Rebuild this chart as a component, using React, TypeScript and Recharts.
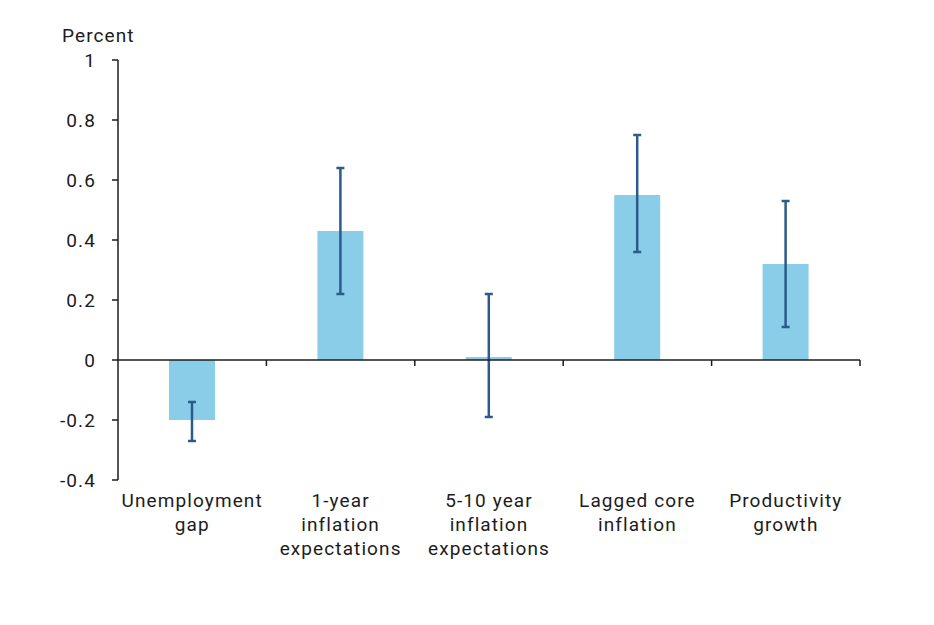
import React from 'react';
import { BarChart, Bar, XAxis, YAxis, ErrorBar, ReferenceLine } from 'recharts';

// category labels, one entry per line of text
const categoryLines = [
  ['Unemployment', 'gap'],
  ['1-year', 'inflation', 'expectations'],
  ['5-10 year', 'inflation', 'expectations'],
  ['Lagged core', 'inflation'],
  ['Productivity', 'growth'],
];

const estimates = [-0.2, 0.43, 0.01, 0.55, 0.32];
const lowerBounds = [-0.27, 0.22, -0.19, 0.36, 0.11];
const upperBounds = [-0.14, 0.64, 0.22, 0.75, 0.53];

const yTicks = [-0.4, -0.2, 0, 0.2, 0.4, 0.6, 0.8, 1];

const data = estimates.map((v, i) => ({
  pos: i + 0.5,
  value: v,
  err: [v - lowerBounds[i], upperBounds[i] - v],
}));

const centerTicks = data.map(d => d.pos);
const boundaries = categoryLines.map((_, i) => i + 1);

const FONT = 'Roboto, "Noto Sans", sans-serif';
const INK = '#1c1c1c';

const CategoryTick = (props: any) => {
  const { x, y, payload } = props;
  const lines = categoryLines[Math.floor(payload.value)] || [];
  return (
    <text
      x={x}
      y={y + 27}
      textAnchor="middle"
      fill={INK}
      fontSize={19}
      fontFamily={FONT}
      letterSpacing={1.1}
    >
      {lines.map((line, i) => (
        <tspan key={i} x={x} dy={i === 0 ? 0 : 24}>
          {line}
        </tspan>
      ))}
    </text>
  );
};

const renderPercent = (props: any) => {
  const vb = props.viewBox || { x: 58, y: 60 };
  return (
    <text x={vb.x + 4} y={vb.y - 18} fill={INK} fontSize={19} fontFamily={FONT} letterSpacing={1.1}>
      Percent
    </text>
  );
};

export default function App() {
  return (
    <div style={{ position: 'absolute', left: 0, top: 0, width: 934, height: 625, background: '#fff' }}>
      <BarChart
        width={934}
        height={625}
        data={data}
        margin={{ top: 60, right: 74, bottom: 45, left: 58 }}
      >
        <XAxis
          dataKey="pos"
          type="number"
          domain={[0, 5]}
          ticks={centerTicks}
          axisLine={false}
          tickLine={false}
          tickSize={0}
          tickMargin={0}
          height={100}
          interval={0}
          tick={<CategoryTick />}
        />
        <YAxis
          type="number"
          domain={[-0.4, 1]}
          ticks={yTicks}
          interval={0}
          width={60}
          axisLine={{ stroke: INK, strokeWidth: 1.5 }}
          tickLine={{ stroke: INK, strokeWidth: 1.5 }}
          tickSize={6}
          tickMargin={16}
          tick={{ fill: INK, fontSize: 19, fontFamily: FONT, letterSpacing: 1.1 }}
          label={{ value: 'Percent', content: renderPercent }}
        />
        <Bar dataKey="value" fill="#89cde8" barSize={46} isAnimationActive={false}>
          <ErrorBar dataKey="err" width={4} stroke="#2b5b8c" strokeWidth={2.5} direction="y" />
        </Bar>
        <ReferenceLine y={0} stroke={INK} strokeWidth={1.5} />
        {boundaries.map(b => (
          <ReferenceLine
            key={b}
            segment={[{ x: b, y: 0 }, { x: b, y: -0.02 }]}
            stroke={INK}
            strokeWidth={1.5}
          />
        ))}
      </BarChart>
    </div>
  );
}
